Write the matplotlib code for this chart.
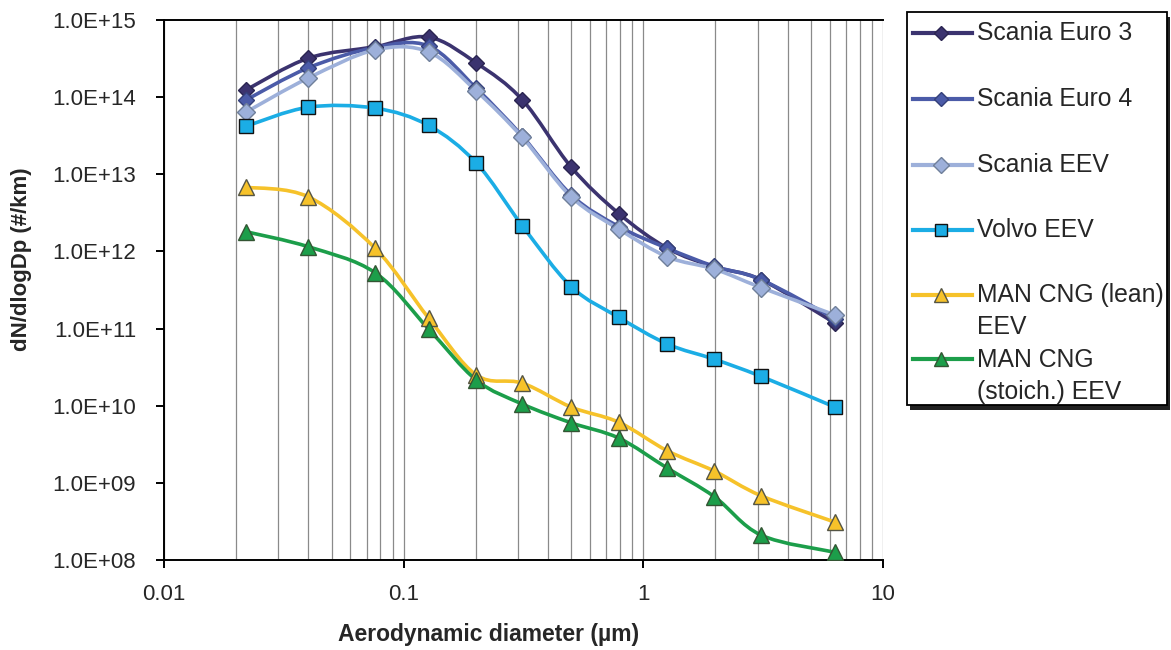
import numpy as np
import matplotlib.pyplot as plt
from matplotlib.path import Path
from matplotlib.patches import PathPatch, Rectangle
from matplotlib.lines import Line2D
from matplotlib.ticker import FixedLocator, NullFormatter

plt.rcParams['font.family'] = ['Liberation Sans', 'DejaVu Sans']

# aerodynamic diameter of the impactor stages (um)
diam = [0.022, 0.040, 0.076, 0.127, 0.201, 0.313, 0.50, 0.79, 1.26, 1.98, 3.1, 6.3]

scania_e3 = [1.24e14, 3.2e14, 4.5e14, 6.0e14, 2.77e14, 9.2e13, 1.24e13, 3.1e12, 1.1e12, 6.3e11, 4.3e11, 1.18e11]
scania_e4 = [9.2e13, 2.4e14, 4.4e14, 4.6e14, 1.3e14, 3.1e13, 5.4e12, 2.1e12, 1.1e12, 6.4e11, 4.3e11, 1.35e11]
scania_eev = [6.4e13, 1.77e14, 4.1e14, 3.85e14, 1.2e14, 3.0e13, 5.1e12, 1.95e12, 8.5e11, 5.9e11, 3.4e11, 1.5e11]
volvo_eev = [4.2e13, 7.4e13, 7.2e13, 4.3e13, 1.4e13, 2.14e12, 3.5e11, 1.4e11, 6.3e10, 4.0e10, 2.4e10, 9.6e9]
man_lean = [6.8e12, 5.1e12, 1.1e12, 1.37e11, 2.5e10, 1.96e10, 9.6e9, 6.1e9, 2.6e9, 1.42e9, 6.8e8, 3.1e8]
man_stoich = [1.8e12, 1.15e12, 5.3e11, 9.9e10, 2.15e10, 1.05e10, 6.0e9, 3.8e9, 1.55e9, 6.6e8, 2.1e8, 1.26e8]

labels = ['Scania Euro 3', 'Scania Euro 4', 'Scania EEV', 'Volvo EEV',
          'MAN CNG (lean)\nEEV', 'MAN CNG\n(stoich.) EEV']
ytick_labels = ['1.0E+08', '1.0E+09', '1.0E+10', '1.0E+11', '1.0E+12',
                '1.0E+13', '1.0E+14', '1.0E+15']
xtick_labels = ['0.01', '0.1', '1', '10']

series = [scania_e3, scania_e4, scania_eev, volvo_eev, man_lean, man_stoich]
colors = ['#3b336f', '#4b5ba8', '#9db0da', '#1badE5', '#f6c22a', '#1c9e4a']
markers = ['D', 'D', 'D', 's', '^', '^']
msizes = [8, 8, 9, 10.5, 11.5, 11.5]
medges = ['#2a2450', '#34407a', '#6f7f9a', '#111111', '#555544', '#335533']

W, H = 1171, 650
TXT = '#262626'


def smooth_path(x, y):
    # Excel-style smoothed line: Catmull-Rom bezier in log-log space
    lx, ly = np.log10(x), np.log10(y)
    pts = np.column_stack([lx, ly])
    verts = [pts[0]]
    codes = [Path.MOVETO]
    n = len(pts)
    for i in range(n - 1):
        p0 = pts[i - 1] if i > 0 else pts[i]
        p1, p2 = pts[i], pts[i + 1]
        p3 = pts[i + 2] if i + 2 < n else pts[i + 1]
        c1 = p1 + (p2 - p0) / 6.0
        c2 = p2 - (p3 - p1) / 6.0
        verts += [c1, c2, p2]
        codes += [Path.CURVE4] * 3
    verts = 10 ** np.array(verts)
    return Path(verts, codes)


def fx(px):
    return px / W


def fy(py):
    return 1 - py / H


fig = plt.figure(figsize=(W / 100, H / 100), dpi=100)
ax = fig.add_axes([fx(164), fy(560), fx(883) - fx(164), fy(20) - fy(560)])
ax.set_xscale('log')
ax.set_yscale('log')
ax.set_xlim(0.01, 10)
ax.set_ylim(1e8, 1e15)

for vals, c, m, ms, me in zip(series, colors, markers, msizes, medges):
    ax.add_patch(PathPatch(smooth_path(diam, vals), facecolor='none',
                           edgecolor=c, lw=2.6, zorder=3))
    ax.plot(diam, vals, ls='none', marker=m, ms=ms, mfc=c, mec=me, mew=1.0, zorder=4)

# gridlines
ax.set_xticks([0.01, 0.1, 1, 10])
ax.set_xticklabels(xtick_labels)
minor_x = [k * d for d in (0.01, 0.1, 1) for k in range(2, 10)]
ax.xaxis.set_minor_locator(FixedLocator(minor_x))
ax.xaxis.set_minor_formatter(NullFormatter())
ax.grid(True, axis='x', which='both', color='#8a8a8a', lw=0.9, zorder=1)
ax.set_axisbelow(True)

ax.set_yticks([10.0 ** e for e in range(8, 16)])
ax.set_yticklabels(ytick_labels)
ax.yaxis.set_minor_locator(FixedLocator([]))

ax.tick_params(axis='both', which='major', labelsize=16, direction='out',
               length=6, width=1.4, color='black', labelcolor=TXT)
ax.tick_params(axis='x', which='minor', length=0)
ax.tick_params(axis='x', pad=11)
ax.tick_params(axis='y', pad=14)

for side in ('left', 'bottom', 'top'):
    ax.spines[side].set_linewidth(1.4)
    ax.spines[side].set_color('black')
ax.spines['right'].set_visible(False)

ax.set_xlabel('Aerodynamic diameter (\u00b5m)', fontsize=16.5, fontweight='bold', color=TXT)
ax.xaxis.set_label_coords(0.452, -0.116)
ax.set_ylabel('dN/dlogDp (#/km)', fontsize=16, fontweight='bold', color=TXT)
ax.yaxis.set_label_coords(-0.183, 0.557)

# legend box drawn in figure pixels, with a drop shadow
lx0, ly0, lx1, ly1 = 907, 12, 1167, 405
fig.patches.append(Rectangle((fx(lx0 + 3), fy(ly1 + 5)), fx(lx1 - lx0), fy(ly0) - fy(ly1),
                             transform=fig.transFigure, facecolor='#222222',
                             edgecolor='none', zorder=5))
fig.patches.append(Rectangle((fx(lx0), fy(ly1)), fx(lx1 - lx0), fy(ly0) - fy(ly1),
                             transform=fig.transFigure, facecolor='white',
                             edgecolor='black', lw=1.3, zorder=6))
row_y = [33, 99, 165, 230, 311, 376]
for lab, c, m, ms, me, yy in zip(labels, colors, markers, msizes, medges, row_y):
    first = yy if '\n' not in lab else yy - 16.5
    fig.add_artist(Line2D([fx(913), fx(972)], [fy(first), fy(first)], color=c, lw=3,
                          transform=fig.transFigure, zorder=7))
    fig.add_artist(Line2D([fx(941)], [fy(first)], ls='none', marker=m, ms=ms * 0.85,
                          mfc=c, mec=me, mew=1.0, transform=fig.transFigure, zorder=8))
    fig.text(fx(977), fy(yy), lab, fontsize=17.8, color=TXT, va='center', ha='left',
             linespacing=1.4, zorder=8)

fig.savefig('out.png', dpi=100)
